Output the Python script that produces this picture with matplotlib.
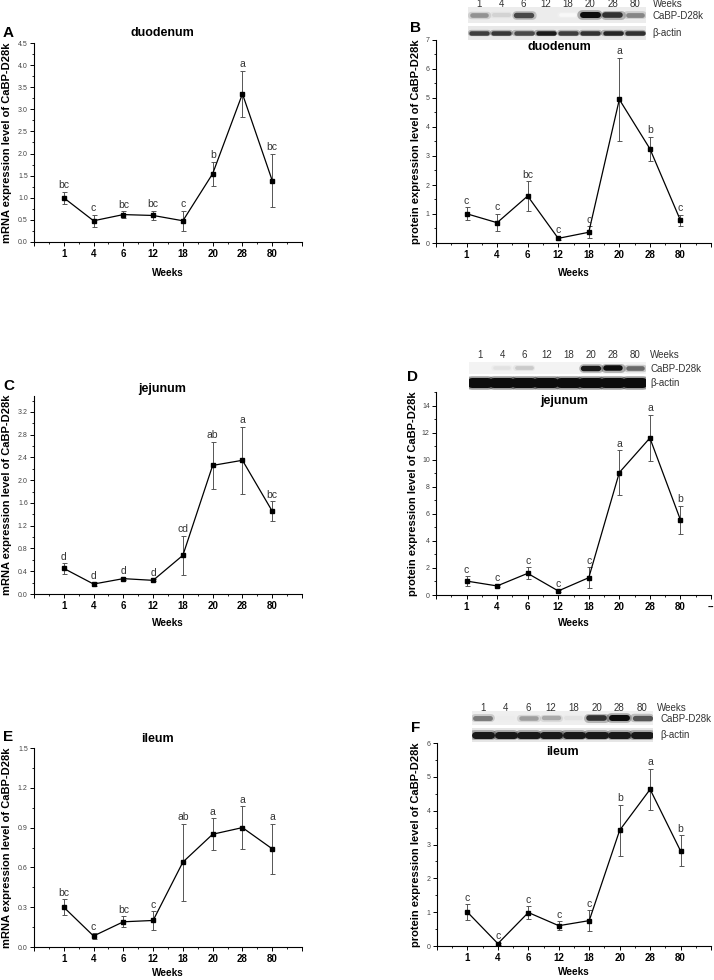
import matplotlib
matplotlib.use("Agg")
import matplotlib.pyplot as plt
from matplotlib.ticker import MultipleLocator, FormatStrFormatter
import numpy as np

plt.rcParams['font.family'] = ['Liberation Sans', 'DejaVu Sans']

weeks = ['1', '4', '6', '12', '18', '20', '28', '80']

# mRNA expression (left column)
mrna_duo = [1.00, 0.48, 0.62, 0.60, 0.48, 1.545, 3.35, 1.39]
mrna_duo_err = [0.13, 0.14, 0.07, 0.11, 0.22, 0.27, 0.52, 0.60]
mrna_duo_let = ['bc', 'c', 'bc', 'bc', 'c', 'b', 'a', 'bc']

mrna_jej = [0.45, 0.175, 0.27, 0.24, 0.68, 2.26, 2.35, 1.456]
mrna_jej_err = [0.09, 0.03, 0.02, 0.02, 0.34, 0.41, 0.59, 0.175]
mrna_jej_let = ['d', 'd', 'd', 'd', 'cd', 'ab', 'a', 'bc']

mrna_ile = [0.30, 0.083, 0.19, 0.20, 0.64, 0.85, 0.90, 0.74]
mrna_ile_err = [0.06, 0.02, 0.04, 0.07, 0.29, 0.12, 0.16, 0.19]
mrna_ile_let = ['bc', 'c', 'bc', 'c', 'ab', 'a', 'a', 'a']

# protein expression (right column)
prot_duo = [1.01, 0.70, 1.62, 0.16, 0.37, 4.95, 3.25, 0.78]
prot_duo_err = [0.22, 0.30, 0.51, 0.05, 0.20, 1.44, 0.42, 0.19]
prot_duo_let = ['c', 'c', 'bc', 'c', 'c', 'a', 'b', 'c']

prot_jej = [1.03, 0.67, 1.60, 0.30, 1.28, 9.05, 11.6, 5.55]
prot_jej_err = [0.35, 0.10, 0.45, 0.05, 0.77, 1.65, 1.70, 1.05]
prot_jej_let = ['c', 'c', 'c', 'c', 'c', 'a', 'a', 'b']

prot_ile = [1.00, 0.07, 0.99, 0.60, 0.75, 3.42, 4.63, 2.81]
prot_ile_err = [0.23, 0.03, 0.18, 0.13, 0.30, 0.75, 0.60, 0.46]
prot_ile_let = ['c', 'c', 'c', 'c', 'c', 'b', 'a', 'b']

# western blot band intensities (0..1)
blot_duo_cabp = [0.45, 0.18, 0.75, 0.08, 0.03, 1.00, 0.85, 0.50]
blot_duo_actin = [0.80, 0.82, 0.75, 0.95, 0.80, 0.85, 0.90, 0.85]
blot_jej_cabp = [0.00, 0.12, 0.22, 0.00, 0.00, 0.95, 1.00, 0.62]
blot_jej_actin = [1.00, 1.00, 1.00, 1.00, 1.00, 1.00, 1.00, 1.00]
blot_ile_cabp = [0.55, 0.08, 0.40, 0.35, 0.12, 0.85, 1.00, 0.70]
blot_ile_actin = [0.95, 0.95, 0.95, 0.95, 0.95, 0.95, 0.95, 0.95]

W, H = 714, 980
fig = plt.figure(figsize=(W / 100, H / 100), dpi=100)


def rect(l, t, r, b):
    return [l / W, 1 - b / H, (r - l) / W, (b - t) / H]


def panel(r, vals, errs, lets, ylim, major, fmt, ylabel, title, title_xy,
          ylab_x, xlab_y, last_label=''):
    ax = fig.add_axes(rect(*r))
    x = np.arange(len(weeks))
    ax.errorbar(x, vals, yerr=errs, fmt='none', ecolor='#555555',
                elinewidth=0.7, capsize=1.8, capthick=0.7, zorder=2)
    ax.plot(x, vals, color='black', lw=0.9, marker='s', ms=3.3,
            mfc='black', mec='black', zorder=3)
    for xi, v, e, t in zip(x, vals, errs, lets):
        ax.annotate(t, (xi, v + e), xytext=(0, 1.2), textcoords='offset points',
                    ha='center', va='bottom', fontsize=7.5, color='#333333')
    ax.set_xlim(-1, 8)
    ax.set_ylim(*ylim)
    ax.set_xticks(np.arange(-1, 9))
    ax.set_xticklabels([''] + weeks + [last_label], fontweight='bold', fontsize=7)
    ax.xaxis.set_minor_locator(MultipleLocator(0.5))
    ax.yaxis.set_major_locator(MultipleLocator(major))
    ax.yaxis.set_minor_locator(MultipleLocator(major / 2))
    ax.yaxis.set_major_formatter(FormatStrFormatter(fmt))
    for lab in ax.get_yticklabels():
        lab.set_fontsize(5)
        lab.set_color('#444444')
    ax.tick_params(axis='both', which='major', length=3, width=0.7, direction='out')
    ax.tick_params(axis='both', which='minor', length=1.6, width=0.6, direction='out')
    ax.tick_params(axis='x', pad=2)
    ax.tick_params(axis='y', pad=1.5)
    for s in ['top', 'right']:
        ax.spines[s].set_visible(False)
    for s in ['left', 'bottom']:
        ax.spines[s].set_linewidth(0.8)
    ax.set_ylabel(ylabel, fontweight='bold', fontsize=8)
    ax.yaxis.set_label_coords(ylab_x, 0.5)
    ax.set_xlabel('Weeks', fontweight='bold', fontsize=7.2)
    ax.xaxis.set_label_coords(0.5, xlab_y)
    ax.text(title_xy[0], title_xy[1], title, transform=ax.transAxes,
            ha='center', va='center', fontweight='bold', fontsize=9)
    return ax


mlab = 'mRNA expression level of CaBP-D28k'
plab = 'protein expression level of CaBP-D28k'

panel((34, 43, 302, 242), mrna_duo, mrna_duo_err, mrna_duo_let, (0, 4.5), 0.5,
      '%.1f', mlab, 'duodenum', (0.48, 1 + 10 / 199), -0.082, -0.13)
panel((436, 40, 711, 243), prot_duo, prot_duo_err, prot_duo_let, (0, 7), 1,
      '%d', plab, 'duodenum', (0.45, 0.965), -0.055, -0.123)
panel((34, 396, 302, 594), mrna_jej, mrna_jej_err, mrna_jej_let, (0, 3.48), 0.4,
      '%.1f', mlab, 'jejunum', (0.48, 1 + 7 / 198), -0.082, -0.12)
panel((436, 392, 711, 595), prot_jej, prot_jej_err, prot_jej_let, (0, 15), 2,
      '%d', plab, 'jejunum', (0.465, 0.956), -0.065, -0.113, last_label='--')
panel((34, 748, 302, 947), mrna_ile, mrna_ile_err, mrna_ile_let, (0, 1.5), 0.3,
      '%.1f', mlab, 'ileum', (0.459, 1 + 9 / 199), -0.082, -0.105)
panel((437, 743, 711, 946), prot_ile, prot_ile_err, prot_ile_let, (0, 6), 1,
      '%d', plab, 'ileum', (0.458, 0.956), -0.058, -0.105)


def blot(l, r, top, bottom, cabp, actin, cabp_px, actin_px, bg_cabp, bg_actin,
         label_y, text_x, weeks_x):
    ax = fig.add_axes(rect(l, top, r, bottom))
    ax.set_xlim(-0.5, 7.5)
    ax.set_ylim(0, 2)
    ax.axis('off')
    ax.fill_between([-0.5, 7.5], 1.08, 1.92, color=bg_cabp, lw=0, zorder=0)
    ax.fill_between([-0.5, 7.5], 0.1, 0.9, color=bg_actin, lw=0, zorder=0)
    for i, v in enumerate(cabp):
        if v > 0.01:
            g = 1 - 0.95 * v
            lw = cabp_px * 0.72 * (0.6 + 0.4 * v)
            ax.plot([i - 0.36, i + 0.36], [1.5, 1.5], color=(g, g, g),
                    lw=lw * 1.6, alpha=0.3, solid_capstyle='round', zorder=1)
            ax.plot([i - 0.33, i + 0.33], [1.5, 1.5], color=(g, g, g),
                    lw=lw, solid_capstyle='round', zorder=2)
    for i, v in enumerate(actin):
        g = 1 - 0.95 * v
        ax.plot([i - 0.38, i + 0.38], [0.5, 0.5], color=(g, g, g),
                lw=actin_px * 0.72 * 1.4, alpha=0.3, solid_capstyle='round',
                zorder=1)
        ax.plot([i - 0.36, i + 0.36], [0.5, 0.5], color=(g, g, g),
                lw=actin_px * 0.72, solid_capstyle='round', zorder=2)
    for i, w in enumerate(weeks):
        ax.text(i, label_y, w, ha='center', va='center', fontsize=7,
                color='#333333', clip_on=False)
    ax.text(weeks_x, label_y, 'Weeks', ha='left', va='center', fontsize=7,
            color='#333333', clip_on=False)
    ax.text(text_x, 1.45, 'CaBP-D28k', ha='left', va='center', fontsize=7,
            color='#333333', clip_on=False)
    ax.text(text_x, 0.5, 'β-actin', ha='left', va='center', fontsize=7,
            color='#333333', clip_on=False)


blot(468, 646, 6, 42, blot_duo_cabp, blot_duo_actin, 6, 4.5, '#ececec', '#e8e8e8',
     2.1, 7.8, 7.8)
blot(469, 646, 360.5, 390.5, blot_jej_cabp, blot_jej_actin, 5.5, 10, '#f3f3f3',
     '#dcdcdc', 2.37, 7.7, 7.7)
blot(471.6, 653.4, 709.5, 743.5, blot_ile_cabp, blot_ile_actin, 6, 7, '#efefef',
     '#e6e6e6', 2.09, 7.8, 7.66)

for letter, (px, py) in {'A': (3, 33), 'B': (410, 28), 'C': (3, 386),
                         'D': (407, 377), 'E': (3, 737), 'F': (411, 728)}.items():
    fig.text(px / W, 1 - py / H, letter, ha='left', va='center',
             fontsize=11, fontweight='bold')

fig.savefig('out.png', dpi=100, facecolor='white')
